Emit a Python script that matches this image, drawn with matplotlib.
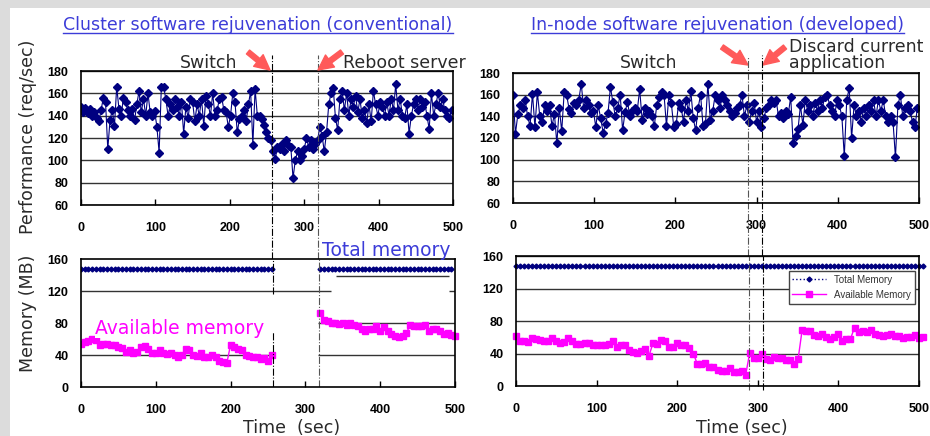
import numpy as np
import matplotlib.pyplot as plt
from matplotlib.lines import Line2D
from matplotlib.patches import Rectangle

# sampling times (sec)
t_perf = np.arange(0, 499, 3)
t_mem_before = np.arange(0, 256, 5)
t_mem_after = np.arange(320, 501, 5)
t_mem_innode = np.arange(0, 506, 5)

# performance (req/sec)
perf_cluster = [148, 143, 147, 142, 146, 140, 143, 138, 135, 145,
                156, 152, 110, 136, 145, 131, 166, 146, 140, 156,
                152, 145, 140, 146, 136, 150, 162, 143, 155, 140,
                160, 143, 140, 144, 130, 107, 166, 166, 155, 140,
                150, 145, 155, 148, 140, 152, 124, 148, 138, 155,
                152, 135, 150, 140, 155, 131, 158, 150, 140, 160,
                140, 145, 155, 157, 145, 143, 130, 140, 160, 152,
                125, 137, 140, 145, 135, 150, 162, 114, 164, 140,
                140, 137, 132, 125, 120, 118, 108, 101, 112, 110,
                115, 108, 118, 113, 112, 84, 100, 108, 100, 104,
                110, 120, 112, 118, 110, 115, 118, 130, 122, 108,
                125, 150, 160, 165, 138, 127, 155, 162, 145, 160,
                140, 155, 148, 158, 143, 155, 138, 145, 133, 150,
                135, 162, 150, 140, 152, 148, 140, 152, 140, 155,
                145, 168, 145, 155, 140, 138, 150, 124, 140, 150,
                155, 145, 155, 148, 152, 140, 128, 160, 140, 150,
                160, 148, 155, 145, 140, 138, 145]
perf_innode = [160, 124, 142, 150, 148, 155, 140, 131, 161, 130,
               162, 140, 135, 150, 145, 150, 131, 142, 115, 148,
               126, 162, 160, 147, 143, 152, 150, 155, 170, 148,
               155, 150, 143, 145, 130, 150, 138, 125, 133, 143,
               167, 153, 140, 148, 160, 127, 144, 153, 140, 145,
               148, 145, 165, 137, 148, 142, 145, 140, 131, 150,
               158, 162, 160, 131, 160, 152, 130, 133, 152, 148,
               135, 155, 145, 163, 138, 127, 148, 160, 131, 133,
               170, 137, 145, 160, 155, 148, 160, 155, 150, 145,
               140, 143, 148, 150, 160, 140, 150, 135, 145, 152,
               135, 145, 130, 138, 148, 150, 155, 152, 155, 140,
               143, 138, 145, 142, 158, 115, 122, 128, 150, 132,
               155, 145, 150, 140, 152, 145, 155, 148, 158, 160,
               150, 145, 140, 155, 150, 140, 103, 155, 166, 120,
               150, 140, 145, 135, 148, 140, 150, 145, 155, 140,
               155, 145, 155, 140, 135, 140, 135, 102, 150, 160,
               140, 148, 150, 145, 135, 130, 148]

# memory (MB)
total_memory = 148
avail_cluster_before = [54, 56, 58, 60, 59, 53, 54, 54, 53, 52,
                        50, 49, 44, 46, 43, 44, 50, 51, 48, 43,
                        42, 46, 43, 41, 42, 40, 38, 40, 48, 46,
                        40, 39, 42, 37, 38, 40, 38, 33, 31, 30,
                        53, 50, 47, 46, 40, 39, 38, 37, 35, 36,
                        33, 40]
avail_cluster_after = [93, 84, 83, 80, 80, 79, 80, 78, 80, 78,
                       76, 72, 70, 72, 73, 76, 70, 75, 70, 66,
                       64, 63, 64, 67, 78, 76, 76, 76, 78, 70,
                       72, 72, 70, 66, 67, 65, 64]
avail_innode = [61, 56, 55, 54, 59, 58, 57, 56, 55, 59,
                55, 53, 54, 59, 56, 52, 52, 53, 53, 51,
                50, 50, 51, 52, 55, 48, 50, 50, 44, 42,
                41, 43, 45, 37, 53, 52, 57, 56, 48, 48,
                53, 50, 50, 47, 40, 27, 27, 28, 23, 24,
                20, 19, 19, 22, 17, 17, 18, 14, 41, 34,
                34, 40, 33, 32, 36, 35, 34, 32, 32, 27,
                33, 69, 68, 68, 63, 61, 64, 60, 58, 60,
                64, 56, 58, 58, 72, 67, 68, 67, 69, 64,
                63, 62, 63, 64, 62, 62, 59, 60, 60, 63,
                59, 60]

cluster_events = [257, 318]
innode_events = [289, 307]

NAVY = '#000080'
PINK = '#ff00ff'
BLUE_TXT = '#3c3cd8'
TXT = '#2a2a2a'
ARROW = '#ff5a5a'

W, H = 930, 436
fig = plt.figure(figsize=(W / 100, H / 100), dpi=100)
fig.patch.set_facecolor('#dcdcdc')
fig.add_artist(Rectangle((10 / W, 0), 1 - 10 / W, 1 - 8 / H, transform=fig.transFigure,
                         facecolor='white', edgecolor='none', zorder=-5))


def px_axes(x0, y0, x1, y1):
    return fig.add_axes([x0 / W, 1 - y1 / H, (x1 - x0) / W, (y1 - y0) / H])


def style(ax, ylim, yticks, grid=True):
    ax.set_xlim(0, 500)
    ax.set_ylim(*ylim)
    xt = [0, 100, 200, 300, 400, 500]
    ax.set_xticks(xt, labels=[str(v) for v in xt], fontweight='bold',
                  family='Liberation Sans', fontsize=9)
    ax.set_yticks(yticks, labels=[str(v) for v in yticks], fontweight='bold',
                  family='Liberation Sans', fontsize=9)
    ax.tick_params(axis='x', direction='in', length=4, width=1, pad=12)
    ax.tick_params(axis='y', length=0, pad=9)
    for s in ax.spines.values():
        s.set_linewidth(1.2)
    if grid:
        ax.yaxis.grid(True, color='#333333', lw=1)
        ax.set_axisbelow(True)


# ---- performance plots ----
ax1 = px_axes(81, 71, 453, 205)
ax1.plot(t_perf, perf_cluster, color=NAVY, lw=0.8, marker='D', ms=3.8)
style(ax1, (60, 180), [60, 80, 100, 120, 140, 160, 180])
ax1.axvline(cluster_events[0], ymin=-0.40, ymax=1.12, color='black', ls='-.', lw=0.8, clip_on=False)
ax1.axvline(cluster_events[1], ymin=-0.40, ymax=1.12, color='#555555', ls='-.', lw=0.8, clip_on=False)

ax2 = px_axes(513, 73, 919, 203)
ax2.plot(t_perf, perf_innode, color=NAVY, lw=0.8, marker='D', ms=3.8)
style(ax2, (60, 180), [60, 80, 100, 120, 140, 160, 180])
ax2.axvline(innode_events[0], ymin=-0.41, ymax=1.12, color='#555555', ls='-.', lw=0.8, clip_on=False)
ax2.axvline(innode_events[1], ymin=-0.41, ymax=1.14, color='black', ls='-.', lw=0.8, clip_on=False)

# ---- memory plots ----
ax3 = px_axes(81, 259, 455, 387)
ax3.plot(t_mem_before, np.full(len(t_mem_before), total_memory), color=NAVY, ls=':', lw=1,
         marker='D', ms=2.5)
ax3.plot(t_mem_after[:-1], np.full(len(t_mem_after) - 1, total_memory), color=NAVY, ls=':', lw=1,
         marker='D', ms=2.5)
ax3.plot(t_mem_before, avail_cluster_before, color=PINK, lw=1, marker='s', ms=4.5)
ax3.plot(t_mem_after, avail_cluster_after, color=PINK, lw=1, marker='s', ms=4.5, clip_on=False)
style(ax3, (0, 160), [0, 40, 80, 120, 160], grid=False)
for y, x0, x1 in [(120, 0, 334), (139, 341, 492), (120, 492, 500), (80, 317, 500),
                  (40, 0, 257), (40, 317, 500)]:
    ax3.hlines(y, x0, x1, color='#333333', lw=1, zorder=0.5)
ax3.axvline(cluster_events[0], ymin=0.73, ymax=1, color='black', ls='-.', lw=0.8)
ax3.axvline(cluster_events[0], ymin=0, ymax=0.43, color='black', ls='-.', lw=0.8)
ax3.axvline(cluster_events[1], ymin=0, ymax=1, color='#555555', ls='-.', lw=0.8)

ax4 = px_axes(516, 256, 919, 386)
ax4.plot(t_mem_innode, np.full(len(t_mem_innode), total_memory), color=NAVY, ls=':', lw=1,
         marker='D', ms=2.5, clip_on=False, label='Total Memory')
ax4.plot(t_mem_innode, avail_innode, color=PINK, lw=1, marker='s', ms=4.5, clip_on=False,
         label='Available Memory')
style(ax4, (0, 160), [0, 40, 80, 120, 160])
ax4.axvline(innode_events[0], ymin=-0.03, ymax=1, color='#555555', ls='-.', lw=0.8, clip_on=False)
ax4.axvline(innode_events[1], ymin=-0.03, ymax=1, color='black', ls='-.', lw=0.8, clip_on=False)
leg = ax4.legend(loc='upper right', bbox_to_anchor=(0.99, 0.885), borderaxespad=0,
                 handlelength=3.5, fancybox=False, framealpha=1,
                 edgecolor='#444444', borderpad=0.4, labelspacing=0.5,
                 prop={'family': 'Liberation Sans', 'size': 7})
for t in leg.get_texts():
    t.set_color('#333333')


# ---- texts ----
def ftext(x, y, s, **kw):
    return fig.text(x / W, 1 - y / H, s, **kw)


title1 = ftext(258, 25, 'Cluster software rejuvenation (conventional)', ha='center', va='center',
               color=BLUE_TXT, fontsize=12.5)
title2 = ftext(717, 25, 'In-node software rejuvenation (developed)', ha='center', va='center',
               color=BLUE_TXT, fontsize=12.5)
ftext(209, 63, 'Switch', ha='center', va='center', color=TXT, fontsize=12.5)
ftext(343, 63, 'Reboot server', ha='left', va='center', color=TXT, fontsize=12.5)
ftext(649, 63, 'Switch', ha='center', va='center', color=TXT, fontsize=12.5)
ftext(789, 55, 'Discard current\napplication', ha='left', va='center', color=TXT,
      fontsize=12.5, linespacing=0.92)
ftext(28, 137, 'Performance (req/sec)', rotation=90, ha='center', va='center', color=TXT, fontsize=12.5)
ftext(28, 313, 'Memory (MB)', rotation=90, ha='center', va='center', color=TXT, fontsize=12.5)
ftext(292, 428, 'Time  (sec)', ha='center', va='center', color=TXT, fontsize=12.5)
ftext(742, 428, 'Time (sec)', ha='center', va='center', color=TXT, fontsize=12.5)
ftext(322, 250, 'Total memory', ha='left', va='center', color=BLUE_TXT, fontsize=13.5)
ftext(95, 328, 'Available memory', ha='left', va='center', color=PINK, fontsize=13.5,
      bbox=dict(facecolor='white', edgecolor='none', pad=0))

# red arrows pointing at the events
for tail, head in [((248, 52), (270, 70)), ((342, 52), (318, 70)),
                   ((722, 47), (748, 65)), ((785, 47), (763, 65))]:
    ax1.annotate('', xy=(head[0], H - head[1]), xytext=(tail[0], H - tail[1]),
                 xycoords='figure pixels', textcoords='figure pixels', annotation_clip=False,
                 arrowprops=dict(arrowstyle='simple,head_length=0.9,head_width=0.9,tail_width=0.3',
                                 color=ARROW, mutation_scale=12, shrinkA=0, shrinkB=0))

# underline the titles
fig.canvas.draw()
for t in (title1, title2):
    bb = t.get_window_extent()
    fig.add_artist(Line2D([bb.x0 / W, bb.x1 / W], [1 - 33 / H, 1 - 33 / H],
                          transform=fig.transFigure, color=BLUE_TXT, lw=1))

fig.savefig('out.png', dpi=100)
